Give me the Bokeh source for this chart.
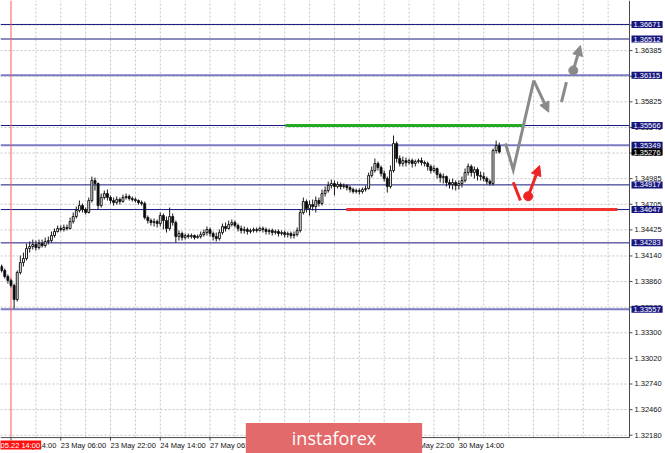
from bokeh.plotting import figure
from bokeh.models import Range1d, Label, Arrow, NormalHead, ColumnDataSource
from bokeh.core.properties import value
from bokeh.embed import file_html
from bokeh.resources import INLINE

# ---------------- data (H1 candles, bar index 0 = 22 May 14:00) ----------------
bars = list(range(-3, 158))

opens = [
    1.34024, 1.33981, 1.33915, 1.33871, 1.33817, 1.33663, 1.33959, 1.34068, 1.34112, 1.34221,
    1.34243, 1.34265, 1.34232, 1.34276, 1.34254, 1.34298, 1.34308, 1.34363, 1.34407, 1.34440,
    1.34429, 1.34451, 1.34440, 1.34516, 1.34571, 1.34636, 1.34691, 1.34647, 1.34615, 1.34746,
    1.34965, 1.34932, 1.34691, 1.34779, 1.34822, 1.34779, 1.34746, 1.34724, 1.34757, 1.34735,
    1.34779, 1.34790, 1.34768, 1.34757, 1.34746, 1.34724, 1.34713, 1.34560, 1.34527, 1.34505,
    1.34516, 1.34494, 1.34582, 1.34527, 1.34440, 1.34571, 1.34505, 1.34352, 1.34385, 1.34341,
    1.34363, 1.34352, 1.34363, 1.34341, 1.34352, 1.34374, 1.34396, 1.34429, 1.34385, 1.34352,
    1.34330, 1.34396, 1.34462, 1.34440, 1.34483, 1.34505, 1.34472, 1.34440, 1.34418, 1.34429,
    1.34407, 1.34418, 1.34429, 1.34418, 1.34440, 1.34429, 1.34407, 1.34418, 1.34396, 1.34407,
    1.34385, 1.34396, 1.34374, 1.34385, 1.34363, 1.34374, 1.34418, 1.34615, 1.34735, 1.34658,
    1.34702, 1.34680, 1.34746, 1.34713, 1.34822, 1.34855, 1.34910, 1.34932, 1.34899, 1.34921,
    1.34899, 1.34910, 1.34888, 1.34866, 1.34844, 1.34855, 1.34844, 1.34866, 1.34877, 1.35019,
    1.35074, 1.35151, 1.35107, 1.35041, 1.34986, 1.34899, 1.35074, 1.35369, 1.35205, 1.35151,
    1.35183, 1.35161, 1.35183, 1.35151, 1.35172, 1.35183, 1.35161, 1.35151, 1.35118, 1.35074,
    1.35096, 1.35030, 1.34997, 1.35008, 1.34943, 1.34921, 1.34943, 1.34910, 1.34932, 1.34965,
    1.35052, 1.35118, 1.35052, 1.35085, 1.35019, 1.35008, 1.34986, 1.34954, 1.34932, 1.35293,
    1.35347,
]
highs = [
    1.34046, 1.34002, 1.33937, 1.33893, 1.33838, 1.33981, 1.34145, 1.34177, 1.34276, 1.34298,
    1.34319, 1.34308, 1.34319, 1.34319, 1.34341, 1.34352, 1.34407, 1.34440, 1.34472, 1.34472,
    1.34483, 1.34483, 1.34560, 1.34615, 1.34680, 1.34746, 1.34713, 1.34669, 1.34779, 1.35008,
    1.34997, 1.34943, 1.34822, 1.34855, 1.34866, 1.34801, 1.34779, 1.34790, 1.34779, 1.34811,
    1.34822, 1.34811, 1.34790, 1.34779, 1.34757, 1.34746, 1.34735, 1.34582, 1.34549, 1.34549,
    1.34538, 1.34615, 1.34604, 1.34571, 1.34669, 1.34604, 1.34527, 1.34418, 1.34407, 1.34385,
    1.34385, 1.34385, 1.34374, 1.34374, 1.34407, 1.34429, 1.34462, 1.34451, 1.34407, 1.34396,
    1.34429, 1.34494, 1.34505, 1.34527, 1.34538, 1.34527, 1.34494, 1.34472, 1.34462, 1.34451,
    1.34440, 1.34451, 1.34451, 1.34462, 1.34462, 1.34451, 1.34440, 1.34440, 1.34429, 1.34429,
    1.34418, 1.34418, 1.34407, 1.34407, 1.34407, 1.34451, 1.34647, 1.34779, 1.34757, 1.34746,
    1.34757, 1.34790, 1.34779, 1.34866, 1.34899, 1.34954, 1.34976, 1.34965, 1.34954, 1.34943,
    1.34932, 1.34921, 1.34910, 1.34888, 1.34877, 1.34877, 1.34888, 1.34910, 1.35052, 1.35118,
    1.35205, 1.35172, 1.35129, 1.35074, 1.35008, 1.35129, 1.35457, 1.35391, 1.35238, 1.35227,
    1.35216, 1.35205, 1.35205, 1.35194, 1.35205, 1.35216, 1.35183, 1.35172, 1.35140, 1.35129,
    1.35107, 1.35052, 1.35041, 1.35019, 1.34976, 1.34986, 1.34965, 1.34965, 1.35008, 1.35096,
    1.35151, 1.35140, 1.35118, 1.35107, 1.35063, 1.35052, 1.35008, 1.34976, 1.35315, 1.35402,
    1.35380,
]
lows = [
    1.33959, 1.33893, 1.33838, 1.33795, 1.33565, 1.33642, 1.33937, 1.34024, 1.34090, 1.34177,
    1.34210, 1.34199, 1.34210, 1.34232, 1.34232, 1.34265, 1.34287, 1.34341, 1.34396, 1.34407,
    1.34407, 1.34418, 1.34429, 1.34494, 1.34549, 1.34615, 1.34615, 1.34593, 1.34604, 1.34724,
    1.34855, 1.34647, 1.34669, 1.34757, 1.34746, 1.34713, 1.34691, 1.34702, 1.34702, 1.34724,
    1.34757, 1.34746, 1.34735, 1.34724, 1.34702, 1.34691, 1.34538, 1.34494, 1.34472, 1.34462,
    1.34451, 1.34462, 1.34429, 1.34396, 1.34418, 1.34472, 1.34287, 1.34308, 1.34308, 1.34319,
    1.34330, 1.34330, 1.34319, 1.34330, 1.34330, 1.34352, 1.34363, 1.34352, 1.34308, 1.34298,
    1.34308, 1.34374, 1.34407, 1.34429, 1.34462, 1.34451, 1.34407, 1.34385, 1.34385, 1.34374,
    1.34385, 1.34396, 1.34396, 1.34407, 1.34396, 1.34374, 1.34374, 1.34363, 1.34374, 1.34352,
    1.34363, 1.34341, 1.34341, 1.34330, 1.34330, 1.34352, 1.34396, 1.34593, 1.34615, 1.34582,
    1.34636, 1.34615, 1.34680, 1.34691, 1.34790, 1.34833, 1.34877, 1.34801, 1.34877, 1.34866,
    1.34877, 1.34855, 1.34833, 1.34822, 1.34822, 1.34811, 1.34822, 1.34844, 1.34866, 1.34997,
    1.35052, 1.35074, 1.35008, 1.34954, 1.34833, 1.34877, 1.35052, 1.35161, 1.35118, 1.35118,
    1.35118, 1.35140, 1.35107, 1.35118, 1.35151, 1.35129, 1.35118, 1.35074, 1.35041, 1.35052,
    1.34986, 1.34943, 1.34932, 1.34899, 1.34877, 1.34866, 1.34855, 1.34866, 1.34888, 1.34943,
    1.35019, 1.35008, 1.34986, 1.34965, 1.34965, 1.34954, 1.34921, 1.34910, 1.34910, 1.35260,
    1.35260,
]
closes = [
    1.33981, 1.33915, 1.33871, 1.33817, 1.33663, 1.33959, 1.34068, 1.34112, 1.34221, 1.34243,
    1.34265, 1.34232, 1.34276, 1.34254, 1.34298, 1.34308, 1.34363, 1.34407, 1.34440, 1.34429,
    1.34451, 1.34440, 1.34516, 1.34571, 1.34636, 1.34691, 1.34647, 1.34615, 1.34746, 1.34965,
    1.34932, 1.34691, 1.34779, 1.34822, 1.34779, 1.34746, 1.34724, 1.34757, 1.34735, 1.34779,
    1.34790, 1.34768, 1.34757, 1.34746, 1.34724, 1.34713, 1.34560, 1.34527, 1.34505, 1.34516,
    1.34494, 1.34582, 1.34527, 1.34440, 1.34571, 1.34505, 1.34352, 1.34385, 1.34341, 1.34363,
    1.34352, 1.34363, 1.34341, 1.34352, 1.34374, 1.34396, 1.34429, 1.34385, 1.34352, 1.34330,
    1.34396, 1.34462, 1.34440, 1.34483, 1.34505, 1.34472, 1.34440, 1.34418, 1.34429, 1.34407,
    1.34418, 1.34429, 1.34418, 1.34440, 1.34429, 1.34407, 1.34418, 1.34396, 1.34407, 1.34385,
    1.34396, 1.34374, 1.34385, 1.34363, 1.34374, 1.34418, 1.34615, 1.34735, 1.34658, 1.34702,
    1.34680, 1.34746, 1.34713, 1.34822, 1.34855, 1.34910, 1.34932, 1.34899, 1.34921, 1.34899,
    1.34910, 1.34888, 1.34866, 1.34844, 1.34855, 1.34844, 1.34866, 1.34877, 1.35019, 1.35074,
    1.35151, 1.35107, 1.35041, 1.34986, 1.34899, 1.35074, 1.35369, 1.35205, 1.35151, 1.35183,
    1.35161, 1.35183, 1.35151, 1.35172, 1.35183, 1.35161, 1.35151, 1.35118, 1.35074, 1.35096,
    1.35030, 1.34997, 1.35008, 1.34943, 1.34921, 1.34943, 1.34910, 1.34932, 1.34965, 1.35052,
    1.35118, 1.35052, 1.35085, 1.35019, 1.35008, 1.34986, 1.34954, 1.34932, 1.35293, 1.35347,
    1.35276,
]

levels_dark = [1.36671, 1.36512, 1.35566, 1.34917, 1.34647, 1.34283]
levels_light = [1.36115, 1.35349, 1.33557]
current_price = 1.35276

grid_prices = [1.32180, 1.32460, 1.32740, 1.33020, 1.33300, 1.33580, 1.33860, 1.34140,
               1.34425, 1.34705, 1.34985, 1.35265, 1.35545, 1.35825, 1.36105, 1.36385, 1.36665]
time_ticks = [0, 16, 32, 48, 64, 80, 96, 112, 128, 144]
time_labels = ["22 May 14:00", "23 May 06:00", "23 May 22:00", "24 May 14:00", "27 May 06:00",
               "27 May 22:00", "28 May 14:00", "29 May 06:00", "29 May 22:00", "30 May 14:00"]
vgrid_bars = [8, 16, 24, 32, 40, 48, 56, 64, 72, 80, 88, 96, 104, 112, 120, 128, 136, 144,
              152, 160, 168, 176, 184, 192]
vline_bar = 0
vline_text = "2019.05.22 14:00"

# resistance / support segments (price, from bar, to bar)
green_level, green_from, green_to = 1.35566, 88.3, 164.5
red_level, red_from, red_to = 1.34647, 107.8, 195.0

# forecast arrows (bar index, price)
gray_path_x = [159.0, 161.5, 168.1]
gray_path_y = [1.35369, 1.35082, 1.36058]
gray_tip = (172.9, 1.35712)
gray_dash = ([177.0, 178.6], [1.35821, 1.36040])
gray_dot = (180.8, 1.36168)
gray_tip2 = (183.1, 1.36441)
red_seg = ([161.5, 163.8], [1.34946, 1.34746])
red_dot = (166.3, 1.34793)
red_tip = (170.0, 1.35129)

# ---------------- layout of the terminal-style canvas (data units) ----------------
X_LEFT, X_RIGHT = -3.376, 210.45          # whole canvas, in bars
Y_BOTTOM, Y_TOP = 1.31980, 1.36933        # whole canvas, in price
CHART_RIGHT = 198.87                      # right edge of the price area (price scale starts here)
CHART_BOTTOM = 1.32154                    # bottom edge of the price area (time scale starts here)
TICK_X = 0.97                             # 3px in bars
TICK_Y = 0.00033                          # 3px in price
PRICE_LABEL_X = CHART_RIGHT + 1.6
BOX_X = CHART_RIGHT + 0.65
TIME_LABEL_Y = CHART_BOTTOM - TICK_Y
WM_X, WM_Y = 103.86, 1.32149

NAVY = "#16167e"
LIGHT = "#7b7bc4"
AXIS = "#4a4a4a"
GRAY = "#8a8a8a"
RED = "#ee2424"
FONT = "Liberation Sans"
FS = "7.5px"

p = figure(width=665, height=453, output_backend="svg", toolbar_location=None, tools="",
           x_range=Range1d(X_LEFT, X_RIGHT), y_range=Range1d(Y_BOTTOM, Y_TOP),
           x_axis_location=None, y_axis_location=None,
           min_border_left=0, min_border_right=0, min_border_top=0, min_border_bottom=0)
p.outline_line_color = None
p.background_fill_color = "white"
p.border_fill_color = "white"
p.grid.visible = False

# dashed grid confined to the price area
p.segment(x0=X_LEFT, x1=CHART_RIGHT, y0=grid_prices, y1=grid_prices,
          line_color="#c4c4c4", line_dash="2 2", line_width=1)
p.segment(x0=vgrid_bars, x1=vgrid_bars, y0=CHART_BOTTOM, y1=Y_TOP,
          line_color="#c4c4c4", line_dash="2 2", line_width=1)

# horizontal levels and vertical red line
p.segment(x0=X_LEFT, x1=CHART_RIGHT, y0=levels_dark, y1=levels_dark, line_color=NAVY, line_width=1)
p.segment(x0=X_LEFT, x1=CHART_RIGHT, y0=levels_light, y1=levels_light, line_color=LIGHT, line_width=2)
p.segment(x0=[vline_bar], x1=[vline_bar], y0=CHART_BOTTOM, y1=Y_TOP, line_color="#ff5a5a", line_width=1)

# price / time scales (axis lines, ticks, labels)
p.segment(x0=[CHART_RIGHT], x1=[CHART_RIGHT], y0=[CHART_BOTTOM], y1=[Y_TOP], line_color=AXIS, line_width=1)
p.segment(x0=[X_LEFT], x1=[CHART_RIGHT], y0=[CHART_BOTTOM], y1=[CHART_BOTTOM], line_color=AXIS, line_width=1)
p.segment(x0=CHART_RIGHT, x1=CHART_RIGHT + TICK_X, y0=grid_prices, y1=grid_prices, line_color=AXIS)
p.segment(x0=time_ticks, x1=time_ticks, y0=CHART_BOTTOM, y1=CHART_BOTTOM - TICK_Y, line_color=AXIS)
p.text(x=PRICE_LABEL_X, y=grid_prices, text=[f"{v:.5f}" for v in grid_prices],
       text_font=value(FONT), text_font_size=value(FS), text_color="#111111",
       text_align="left", text_baseline="middle")
p.text(x=time_ticks, y=TIME_LABEL_Y, text=time_labels,
       text_font=value(FONT), text_font_size=value(FS), text_color="#111111",
       text_align="left", text_baseline="top")

# candles
up = dict(x=[], top=[], bottom=[], hi=[], lo=[])
dn = dict(x=[], top=[], bottom=[], hi=[], lo=[])
for b, o, h, l, c in zip(bars, opens, highs, lows, closes):
    d = up if c >= o else dn
    d["x"].append(b); d["top"].append(max(o, c)); d["bottom"].append(min(o, c))
    d["hi"].append(h); d["lo"].append(l)
for d, fill in ((up, "white"), (dn, "black")):
    src = ColumnDataSource(d)
    p.segment(x0="x", y0="lo", x1="x", y1="hi", source=src, line_color="#1a1a1a", line_width=1)
    p.vbar(x="x", top="top", bottom="bottom", width=0.62, source=src,
           fill_color=fill, line_color="#1a1a1a", line_width=1)

# green resistance / red support segments
p.segment(x0=[green_from], y0=[green_level], x1=[green_to], y1=[green_level],
          line_color="#22aa22", line_width=3)
p.segment(x0=[red_from], y0=[red_level], x1=[red_to], y1=[red_level],
          line_color="#f03333", line_width=3)

# forecast gray path
p.line(gray_path_x, gray_path_y, line_color=GRAY, line_width=3, line_join="miter")
p.add_layout(Arrow(x_start=gray_path_x[-1], y_start=gray_path_y[-1], x_end=gray_tip[0], y_end=gray_tip[1],
                   line_color=GRAY, line_width=3,
                   end=NormalHead(size=10, fill_color=GRAY, line_color=GRAY)))
p.line(gray_dash[0], gray_dash[1], line_color=GRAY, line_width=3)
p.scatter([gray_dot[0]], [gray_dot[1]], size=9, fill_color=GRAY, line_color=GRAY)
p.add_layout(Arrow(x_start=gray_dot[0], y_start=gray_dot[1], x_end=gray_tip2[0], y_end=gray_tip2[1],
                   line_color=GRAY, line_width=3,
                   end=NormalHead(size=10, fill_color=GRAY, line_color=GRAY)))
# forecast red path
p.line(red_seg[0], red_seg[1], line_color=RED, line_width=3)
p.scatter([red_dot[0]], [red_dot[1]], size=9, fill_color=RED, line_color=RED)
p.add_layout(Arrow(x_start=red_dot[0], y_start=red_dot[1], x_end=red_tip[0], y_end=red_tip[1],
                   line_color=RED, line_width=3,
                   end=NormalHead(size=10, fill_color=RED, line_color=RED)))

# price boxes on the price scale
for lv in levels_dark + levels_light:
    p.add_layout(Label(x=BOX_X, y=lv, text=f"{lv:.5f}",
                       text_font=FONT, text_font_size=FS, text_color="white",
                       text_align="left", text_baseline="middle",
                       background_fill_color=NAVY, background_fill_alpha=1.0, padding=(2, 1)))
p.add_layout(Label(x=BOX_X, y=current_price, text=f"{current_price:.5f}",
                   text_font=FONT, text_font_size=FS, text_color="white",
                   text_align="left", text_baseline="middle",
                   background_fill_color="black", background_fill_alpha=1.0, padding=(2, 1)))

# date box of the vertical line
p.add_layout(Label(x=vline_bar, y=TIME_LABEL_Y, text=vline_text,
                   text_font=FONT, text_font_size=FS, text_color="white",
                   text_align="center", text_baseline="top",
                   background_fill_color="#ff1010", padding=(1, 0)))

# watermark
p.add_layout(Label(x=WM_X, y=WM_Y, text="instaforex",
                   text_font="Open Sans", text_font_size="18px", text_color="white",
                   text_align="center", text_baseline="middle",
                   background_fill_color="#e26a6a", padding=(46, 3)))

open("out.html", "w").write(file_html(p, INLINE))
